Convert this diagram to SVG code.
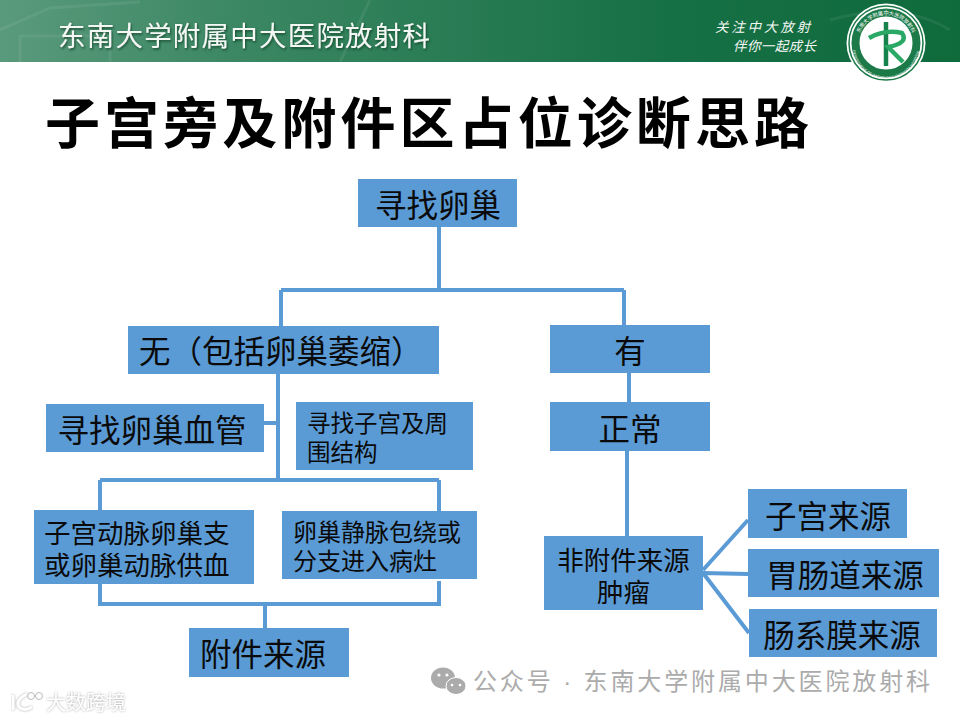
<svg xmlns="http://www.w3.org/2000/svg" width="960" height="720" viewBox="0 0 960 720">
<defs>
<linearGradient id="hdr" x1="0" x2="1" y1="0" y2="0"><stop offset="0" stop-color="#5a9a7c"/><stop offset="0.25" stop-color="#3b8763"/><stop offset="0.7" stop-color="#167045"/><stop offset="1" stop-color="#0f6a3c"/></linearGradient>
<filter id="sh" x="-5%" y="-20%" width="110%" height="140%"><feDropShadow dx="1" dy="1.5" stdDeviation="1" flood-color="#0a3a22" flood-opacity="0.8"/></filter>
<filter id="glow" x="-10%" y="-30%" width="120%" height="160%"><feDropShadow dx="0" dy="0" stdDeviation="1.2" flood-color="#999" flood-opacity="0.9"/></filter>
<path id="arcT" d="M858 43A28 28 0 0 1 914 43"/>
<path id="arcB" d="M852 45A34 34 0 0 0 920 45"/>
</defs>
<style>
text{font-family:"Liberation Sans","Noto Sans CJK SC",sans-serif;fill:#0a0a0a}
.b{fill:#5b9bd5}
.c{fill:none;stroke:#5b9bd5;stroke-width:4}
.t28{font-size:31.5px;text-anchor:middle}
</style>
<rect width="960" height="720" fill="#fff"/>
<g id="header">
<rect width="960" height="62" fill="url(#hdr)"/>
<path d="M0 30L50 8L140 2M20 62V36H110V62M370 0L340 62M830 20Q900 0 950 30" fill="none" stroke="#fff" stroke-opacity="0.07" stroke-width="3"/>
<text x="58" y="46" font-size="27.5" textLength="372" style="fill:#f4f8f5" filter="url(#sh)">东南大学附属中大医院放射科</text>
<text x="715" y="32" font-size="13.5" font-style="italic" textLength="95" style="fill:#f4f8f5">关注中大放射</text>
<text x="733" y="51" font-size="13.5" font-style="italic" textLength="83" style="fill:#f4f8f5">伴你一起成长</text>
</g>
<g id="logo">
<circle cx="886" cy="43" r="39.5" fill="#fff"/>
<circle cx="886" cy="43" r="37" fill="none" stroke="#1b7a48" stroke-width="1.5"/>
<circle cx="886" cy="43" r="30.5" fill="none" stroke="#1b7a48" stroke-width="8"/>
<text font-size="5.2" style="fill:#fff"><textPath href="#arcT" startOffset="50%" text-anchor="middle">东南大学附属中大医院放射科</textPath></text>
<text font-size="3.8" style="fill:#fff"><textPath href="#arcB" startOffset="50%" text-anchor="middle">DEPARTMENT OF RADIOLOGY ZHONGDA HOSPITAL</textPath></text>
<path d="M886 22V66" fill="none" stroke="#17834c" stroke-width="4.5"/>
<path d="M869 38Q885 29 902 33Q909 43 888 47L903 62" fill="none" stroke="#2aa866" stroke-width="4.5"/>
</g>
<text id="title" x="45" y="143" font-size="55" textLength="764" style="font-weight:700;fill:#000">子宫旁及附件区占位诊断思路</text>
<g id="connectors">
<path class="c" d="M439 226V290M281 290H624M281 290V327M624 290V326M629 373V403M627 450V537"/>
<path class="c" d="M278 374V480M264 423H278"/>
<path class="c" d="M100 480H439M100 480V510M439 480V512"/>
<path class="c" d="M100 584V604H439V581M265 604V629"/>
<path class="c" d="M703 570L748 520M703 573L748 574M703 573L749 633"/>
</g>
<g id="n1"><rect class="b" x="358" y="179" width="159" height="48"/><text class="t28" x="438" y="217">寻找卵巢</text></g>
<g id="n2"><rect class="b" x="128" y="326" width="311" height="48"/><text x="139" y="363" font-size="31.5">无（包括卵巢萎缩）</text></g>
<g id="n3"><rect class="b" x="550" y="325" width="160" height="48"/><text class="t28" x="630" y="363">有</text></g>
<g id="n4"><rect class="b" x="46" y="404" width="218" height="48"/><text class="t28" x="152" y="442">寻找卵巢血管</text></g>
<g id="n5"><rect class="b" x="296" y="402" width="177" height="68"/><text font-size="23.5" x="307" y="432">寻找子宫及周</text><text font-size="23.5" x="307" y="461">围结构</text></g>
<g id="n6"><rect class="b" x="550" y="402" width="160" height="49"/><text class="t28" x="630" y="441">正常</text></g>
<g id="n7"><rect class="b" x="34" y="510" width="220" height="74"/><text font-size="26.5" x="44" y="543">子宫动脉卵巢支</text><text font-size="26.5" x="44" y="575">或卵巢动脉供血</text></g>
<g id="n8"><rect class="b" x="282" y="511" width="195" height="68"/><text font-size="24" x="293" y="541">卵巢静脉包绕或</text><text font-size="24" x="293" y="570">分支进入病灶</text></g>
<g id="n9"><rect class="b" x="189" y="628" width="160" height="49"/><text class="t28" x="263" y="666">附件来源</text></g>
<g id="n10"><rect class="b" x="544" y="536" width="159" height="74"/><text font-size="26.5" x="623.500" y="570" text-anchor="middle">非附件来源</text><text font-size="26.5" x="623.500" y="602" text-anchor="middle">肿瘤</text></g>
<g id="n11"><rect class="b" x="748" y="489" width="159" height="49"/><text class="t28" x="828" y="528">子宫来源</text></g>
<g id="n12"><rect class="b" x="748" y="549" width="191" height="48"/><text class="t28" x="845" y="587">胃肠道来源</text></g>
<g id="n13"><rect class="b" x="749" y="609" width="188" height="48"/><text class="t28" x="842" y="647">肠系膜来源</text></g>
<g id="wm">
<text x="473" y="690" font-size="24" textLength="457" style="fill:#ababab">公众号 · 东南大学附属中大医院放射科</text>
<ellipse cx="443" cy="678" rx="12" ry="10.5" fill="#ababab"/><ellipse cx="456" cy="686" rx="10" ry="8.500" fill="#ababab" stroke="#fff"/>
<circle cx="439" cy="675" r="1.6" fill="#fff"/><circle cx="447" cy="675" r="1.6" fill="#fff"/><circle cx="452" cy="685" r="1.3" fill="#fff"/><circle cx="460" cy="685" r="1.3" fill="#fff"/>
<text x="46" y="710" font-size="20" textLength="80" style="fill:#fff" filter="url(#glow)">大数跨境</text>
<path d="M13 695V710M27 694Q15 700 19 707Q24 712 32 707" fill="none" stroke="#fff" stroke-width="3" filter="url(#glow)"/>
<circle cx="31" cy="696" r="3.5" fill="#fff" stroke="#bbb"/><circle cx="39" cy="696" r="3.5" fill="#fff" stroke="#bbb"/>
</g>
</svg>
